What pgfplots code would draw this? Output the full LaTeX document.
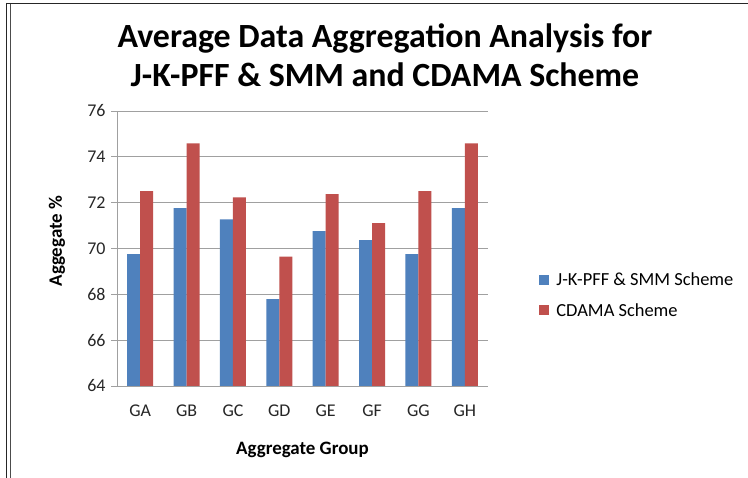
\documentclass[border=0pt]{standalone}
\usepackage{pgfplots}
\pgfplotsset{compat=1.18}
\usepackage{fontspec}
\setmainfont{Carlito}
\definecolor{cblue}{HTML}{4F81BD}
\definecolor{cred}{HTML}{C0504D}
\definecolor{cgrid}{HTML}{A0A0A0}
\begin{document}
\begin{tikzpicture}[x=1bp,y=1bp]
\useasboundingbox (0,0) rectangle (748,478);
\fill[white] (0,0) rectangle (748,478);
\draw[line width=1.2bp,black!85] (6.5,475) -- (6.5,0);
\draw[line width=1bp,black!70] (10,475) -- (10,0);
\draw[line width=1.5bp,black!85] (6.5,474.5) -- (748,474.5);
\node[font=\fontsize{34}{39}\selectfont\bfseries, align=center] at (385,423)
  {Average Data Aggregation Analysis for\\J-K-PFF \& SMM and CDAMA Scheme};
\begin{axis}[
  at={(117bp,92bp)}, anchor=south west,
  scale only axis, width=371bp, height=275bp,
  ybar=0pt, bar width=13bp,
  xmin=-0.5, xmax=7.5, ymin=64, ymax=76,
  ytick={64,66,...,76},
  xtick={0,...,7},
  xticklabels={GA,GB,GC,GD,GE,GF,GG,GH},
  extra x ticks={-0.5,0.5,...,7.5},
  extra x tick labels={},
  extra x tick style={major tick length=6bp, tick style={cgrid, line width=0.8bp}},
  x tick style={draw=none},
  y tick style={cgrid, line width=0.8bp},
  major tick length=6bp,
  tick align=outside,
  axis x line*=bottom, axis y line*=left,
  axis line style={cgrid, line width=0.8bp, -},
  ymajorgrids, grid style={cgrid, line width=0.8bp},
  tick label style={font=\fontsize{18}{22}\selectfont, text=black!85},
  /pgf/number format/assume math mode=true,
  xticklabel style={yshift=-9bp},
  yticklabel style={xshift=-2bp},
  ylabel={\bfseries Aggegate \%},
  xlabel={\bfseries Aggregate Group},
  label style={font=\fontsize{19}{22}\selectfont},
  ylabel style={at={(axis description cs:-0.162,0.527)}, anchor=center},
  xlabel style={at={(axis description cs:0.5,-0.233)}, anchor=center},
  legend style={at={(1.13,0.33)}, anchor=west, draw=none, fill=none,
    font=\fontsize{18.5}{22}\selectfont, row sep=12bp,
    /tikz/every odd column/.append style={column sep=5bp}},
  legend cell align=left,
  legend image code/.code={\fill[#1] (0bp,-5bp) rectangle (10bp,5bp);},
]
\addplot[fill=cblue, draw=none] coordinates {(0,69.75) (1,71.76) (2,71.27) (3,67.79) (4,70.76) (5,70.36) (6,69.75) (7,71.76)};
\addplot[fill=cred, draw=none] coordinates {(0,72.50) (1,74.59) (2,72.23) (3,69.65) (4,72.37) (5,71.11) (6,72.50) (7,74.59)};
\legend{J-K-PFF \& SMM Scheme, CDAMA Scheme}
\end{axis}
\end{tikzpicture}
\end{document}
